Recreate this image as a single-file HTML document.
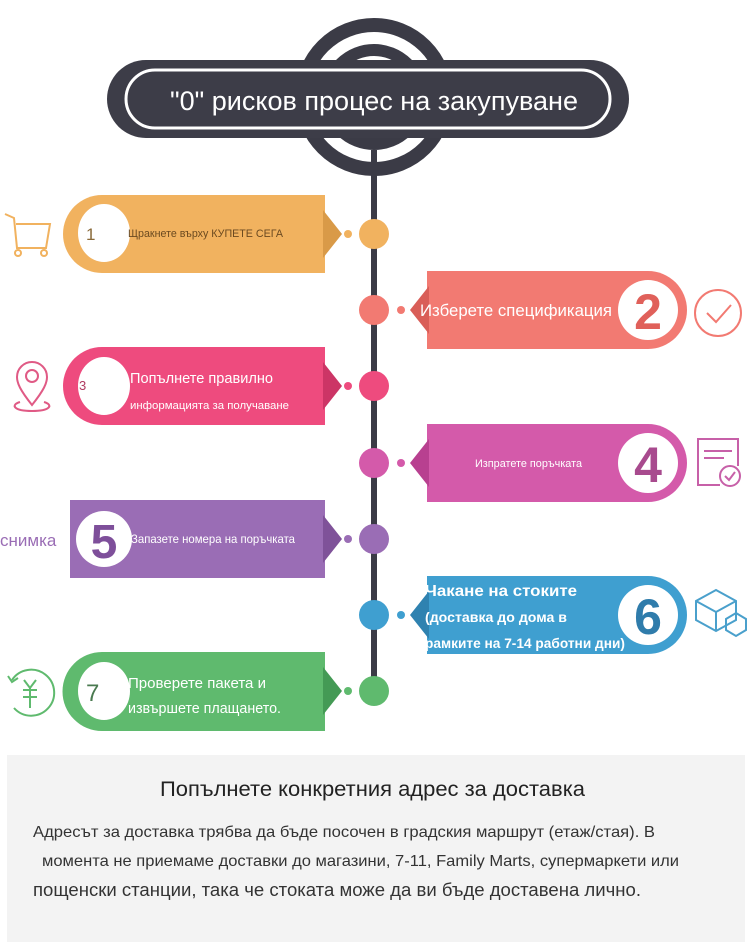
<!DOCTYPE html>
<html><head><meta charset="utf-8"><style>
body{margin:0;width:750px;height:948px;background:#fff;overflow:hidden}
svg{display:block}
text{font-family:"Liberation Sans",sans-serif}
</style></head><body>
<svg width="750" height="948" viewBox="0 0 750 948">
<circle cx="374" cy="97" r="72" fill="none" stroke="#3b3b46" stroke-width="14"/>
<circle cx="374" cy="97" r="47" fill="none" stroke="#3b3b46" stroke-width="12"/>
<rect x="371" y="150" width="6" height="540" fill="#3b3b46"/>
<rect x="107" y="60" width="522" height="78" rx="39" fill="#3d3d48"/>
<rect x="126" y="70" width="484" height="58" rx="29" fill="none" stroke="#fff" stroke-width="3"/>
<text x="170" y="110" font-size="27" fill="#fff" textLength="408" lengthAdjust="spacingAndGlyphs">"0" рисков процес на закупуване</text>

<!-- step1 -->
<path d="M102 195 H325 V273 H102 A39 39 0 0 1 102 195Z" fill="#f1b25f"/>
<path d="M323 210 L342 234 L323 258Z" fill="#d99a48"/>
<circle cx="348" cy="234" r="4" fill="#f1b25f"/>
<circle cx="374" cy="234" r="15" fill="#f1b25f"/>
<ellipse cx="104" cy="233" rx="26" ry="29" fill="#fff"/>
<text x="86" y="240" font-size="17" fill="#8a6a3a">1</text>
<text x="128" y="237" font-size="11" fill="#6b4a20" textLength="155" lengthAdjust="spacingAndGlyphs">Щракнете върху КУПЕТЕ СЕГА</text>
<g fill="none" stroke="#f1b25f" stroke-width="2"><path d="M5 214 L14 218 L17 248 H46 L50 224 H16"/><circle cx="18" cy="253" r="3"/><circle cx="44" cy="253" r="3"/></g>

<!-- step2 -->
<path d="M427 271 H648 A39 39 0 0 1 648 349 H427Z" fill="#f27a72"/>
<path d="M429 286 L410 310 L429 334Z" fill="#d95e58"/>
<circle cx="401" cy="310" r="4" fill="#f27a72"/>
<circle cx="374" cy="310" r="15" fill="#f27a72"/>
<circle cx="648" cy="310" r="30" fill="#fff"/>
<text x="648" y="329" font-size="50" font-weight="bold" fill="#e0605a" text-anchor="middle">2</text>
<text x="420" y="316" font-size="17" fill="#fff" textLength="192" lengthAdjust="spacingAndGlyphs">Изберете спецификация</text>
<g fill="none" stroke="#f27a72" stroke-width="2"><circle cx="718" cy="313" r="23"/><path d="M707 313 L716 322 L731 305"/></g>

<!-- step3 -->
<path d="M102 347 H325 V425 H102 A39 39 0 0 1 102 347Z" fill="#ee4b7e"/>
<path d="M323 362 L342 386 L323 410Z" fill="#cc3566"/>
<circle cx="348" cy="386" r="4" fill="#ee4b7e"/>
<circle cx="374" cy="386" r="15" fill="#ee4b7e"/>
<ellipse cx="104" cy="386" rx="26" ry="29" fill="#fff"/>
<text x="79" y="390" font-size="13" fill="#b03a60">3</text>
<text x="130" y="383" font-size="15" fill="#fff" textLength="143" lengthAdjust="spacingAndGlyphs">Попълнете правилно</text>
<text x="130" y="409" font-size="11" fill="#fff" textLength="159" lengthAdjust="spacingAndGlyphs">информацията за получаване</text>
<g fill="none" stroke="#e05a85" stroke-width="2"><path d="M32 405 C20 390 17 383 17 377 A15 15 0 0 1 47 377 C47 383 44 390 32 405Z"/><circle cx="32" cy="376" r="6"/><path d="M20 402 C10 405 14 411 32 411 C50 411 54 405 44 402"/></g>

<!-- step4 -->
<path d="M427 424 H648 A39 39 0 0 1 648 502 H427Z" fill="#d45aaa"/>
<path d="M429 439 L410 463 L429 487Z" fill="#b84090"/>
<circle cx="401" cy="463" r="4" fill="#d45aaa"/>
<circle cx="374" cy="463" r="15" fill="#d45aaa"/>
<circle cx="648" cy="463" r="30" fill="#fff"/>
<text x="648" y="482" font-size="50" font-weight="bold" fill="#a84a8e" text-anchor="middle">4</text>
<text x="475" y="467" font-size="11" fill="#fff" textLength="107" lengthAdjust="spacingAndGlyphs">Изпратете поръчката</text>
<g fill="none" stroke="#c760a8" stroke-width="2"><path d="M720 485 H698 V439 H738 V466"/><path d="M704 451 H732 M704 458 H724"/><circle cx="730" cy="476" r="10"/><path d="M725 476 L729 480 L735 472"/></g>

<!-- step5 -->
<path d="M70 500 H325 V578 H70Z" fill="#9a6db5"/>
<path d="M323 515 L342 539 L323 563Z" fill="#7f5299"/>
<circle cx="348" cy="539" r="4" fill="#9a6db5"/>
<circle cx="374" cy="539" r="15" fill="#9a6db5"/>
<circle cx="104" cy="539" r="28" fill="#fff"/>
<text x="104" y="558" font-size="48" font-weight="bold" fill="#7e4f9a" text-anchor="middle">5</text>
<text x="131" y="543" font-size="12" fill="#fff" textLength="164" lengthAdjust="spacingAndGlyphs">Запазете номера на поръчката</text>
<text x="0" y="546" font-size="17" fill="#9a6db5">снимка</text>

<!-- step6 -->
<path d="M427 576 H648 A39 39 0 0 1 648 654 H427Z" fill="#3f9fd0"/>
<path d="M429 591 L410 615 L429 639Z" fill="#2f82b0"/>
<circle cx="401" cy="615" r="4" fill="#3f9fd0"/>
<circle cx="374" cy="615" r="15" fill="#3f9fd0"/>
<circle cx="648" cy="615" r="30" fill="#fff"/>
<text x="648" y="634" font-size="50" font-weight="bold" fill="#2f7cab" text-anchor="middle">6</text>
<text x="425" y="596" font-size="16" font-weight="bold" fill="#fff" textLength="152" lengthAdjust="spacingAndGlyphs">Чакане на стоките</text>
<text x="425" y="622" font-size="14" font-weight="bold" fill="#fff" textLength="142" lengthAdjust="spacingAndGlyphs">(доставка до дома в</text>
<text x="425" y="648" font-size="14" font-weight="bold" fill="#fff" textLength="200" lengthAdjust="spacingAndGlyphs">рамките на 7-14 работни дни)</text>
<g fill="none" stroke="#4aa0cc" stroke-width="2"><path d="M716 590 L736 601 V620 L716 631 L696 620 V601Z M696 601 L716 612 L736 601 M716 612 V631"/><path d="M736 613 L746 619 V630 L736 636 L726 630 V619Z"/></g>

<!-- step7 -->
<path d="M102 652 H325 V731 H102 A39 39 0 0 1 102 652Z" fill="#5fba6e"/>
<path d="M323 667 L342 691 L323 715Z" fill="#449a55"/>
<circle cx="348" cy="691" r="4" fill="#5fba6e"/>
<circle cx="374" cy="691" r="15" fill="#5fba6e"/>
<ellipse cx="104" cy="691" rx="26" ry="29" fill="#fff"/>
<text x="86" y="701" font-size="24" fill="#4a7a50">7</text>
<text x="128" y="688" font-size="15" fill="#fff" textLength="138" lengthAdjust="spacingAndGlyphs">Проверете пакета и</text>
<text x="128" y="713" font-size="15" fill="#fff" textLength="153" lengthAdjust="spacingAndGlyphs">извършете плащането.</text>
<g fill="none" stroke="#5fba6e" stroke-width="2"><path d="M12 680 A23 23 0 1 1 14 708"/><path d="M8 676 L12 682 L18 678"/><path d="M24 680 L30 688 L36 680 M23 690 H37 M23 697 H37 M30 688 V708"/></g>

<!-- bottom box -->
<rect x="7" y="755" width="738" height="187" fill="#f3f3f3"/>
<text x="160" y="796" font-size="21" fill="#222" textLength="425" lengthAdjust="spacingAndGlyphs">Попълнете конкретния адрес за доставка</text>
<text x="33" y="837" font-size="16" fill="#333" textLength="622" lengthAdjust="spacingAndGlyphs">Адресът за доставка трябва да бъде посочен в градския маршрут (етаж/стая). В</text>
<text x="42" y="866" font-size="16" fill="#333" textLength="637" lengthAdjust="spacingAndGlyphs">момента не приемаме доставки до магазини, 7-11, Family Marts, супермаркети или</text>
<text x="33" y="896" font-size="18" fill="#333" textLength="608" lengthAdjust="spacingAndGlyphs">пощенски станции, така че стоката може да ви бъде доставена лично.</text>
</svg>
</body></html>
